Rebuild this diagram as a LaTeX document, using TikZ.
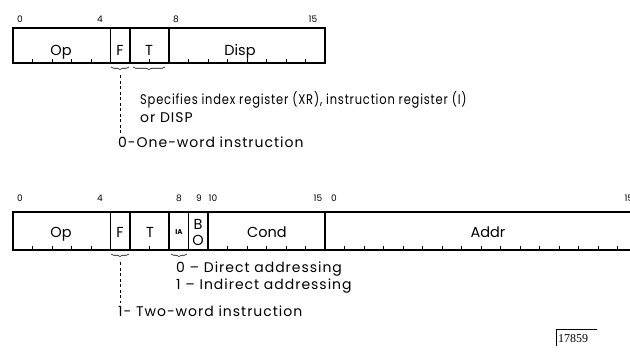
\documentclass[tikz,border=0pt]{standalone}
\usepackage{fontspec}
\setmainfont{Poppins}
\newfontfamily\notefont[LetterSpace=7]{Poppins}
\newfontfamily\serialfont{Liberation Serif}
\usetikzlibrary{decorations.pathreplacing}
\tikzset{
  regline/.style={line width=1.1pt},
  bittick/.style={line width=0.6pt},
  bitnum/.style={font=\fontsize{9}{10}\selectfont, anchor=base},
  field/.style={font=\fontsize{14.5}{16}\selectfont, anchor=base},
  note/.style={font=\notefont\fontsize{14}{17}\selectfont, anchor=base west, inner sep=0pt},
  fieldbrace/.style={decorate, decoration={brace, mirror, amplitude=2.5pt}, line width=0.6pt},
  lead/.style={dashed, dash pattern=on 3pt off 2.5pt, line width=0.5pt},
}
\begin{document}
\begin{tikzpicture}[x=1pt, y=-1pt]
\useasboundingbox (0,0) rectangle (630,354);
% one-word format
\draw[regline] (13,28) rectangle (325,63);
\foreach \b in {5,6,8}
  \draw[regline] ({13+19.5*\b},28) -- ({13+19.5*\b},63);
\foreach \b in {1,2,3,4,7,9,10,...,15}
  \draw[bittick] ({13+19.5*\b},63) -- ++(0,-4);
\node[bitnum] (atop0) at (20,22) {0};
\node[bitnum] (atop4) at (100,22) {4};
\node[bitnum] (atop8) at (176,22) {8};
\node[bitnum] (atop15) at (313,22) {15};
\node[field] (opa) at (61,55) {Op};
\node[field] (fa) at (120,55) {F};
\node[field] (ta) at (149,55) {T};
\node[field] (dispa) at (240,55) {Disp};
\draw[fieldbrace] (111,67) -- (129,67);
\draw[fieldbrace] (133,67) -- (165,67);
\coordinate (ftipa) at (120,75);
\coordinate (fenda) at (120,134);
\draw[lead] (ftipa) -- (fenda);
\node[note] (xrnote) at (140,104) {\scalebox{0.82}[1]{Specifies index register (XR), instruction register (I)}};
\node[note] (dispnote) at (140,122) {or DISP};
\node[note] (onenote) at (118,147) {0-One-word instruction};
% two-word format
\draw[regline] (630,212) -- (13,212) -- (13,250) -- (630,250);
\foreach \b in {5,6,8,9,10,16}
  \draw[regline] ({13+19.5*\b},212) -- ({13+19.5*\b},250);
\foreach \b in {1,2,3,4,7,11,12,...,15,17,18,...,31}
  \draw[bittick] ({13+19.5*\b},250) -- ++(0,-4);
\node[bitnum] (bbot0) at (20,201) {0};
\node[bitnum] (bbot4) at (100,201) {4};
\node[bitnum] (bbot8) at (179,201) {8};
\node[bitnum] (bbot9) at (199,201) {9};
\node[bitnum] (bbot10) at (213,201) {10};
\node[bitnum] (bbot15) at (318,201) {15};
\node[bitnum] (bbot16) at (334,201) {0};
\node[bitnum] (bbot31) at (629,201) {15};
\node[field] (opb) at (61,237) {Op};
\node[field] (fb) at (120,237) {F};
\node[field] (tb) at (150,237) {T};
\node[field, font=\fontsize{7}{8}\selectfont\bfseries] (iab) at (179,234) {IA};
\node[field] (bb) at (198,229) {B};
\node[field] (ob) at (198,245) {O};
\node[field] (condb) at (267,237) {Cond};
\node[field] (addrb) at (488,237) {Addr};
\draw[fieldbrace] (111,254) -- (129,254);
\draw[fieldbrace] (171,254) -- (187,254);
\coordinate (ftipb) at (120,262);
\coordinate (fendb) at (120,303);
\draw[lead] (ftipb) -- (fendb);
\node[note] (dirnote) at (176,272) {0 – Direct addressing};
\node[note] (indnote) at (176,289) {1 – Indirect addressing};
\node[note] (twonote) at (118,316) {1- Two-word instruction};
% serial
\draw[line width=0.6pt] (556,346) -- (556,329) -- (597,329);
\node[font=\serialfont\fontsize{12}{13}\selectfont, anchor=base west, inner sep=0pt] (serial) at (558,342) {17859};
\end{tikzpicture}
\end{document}
